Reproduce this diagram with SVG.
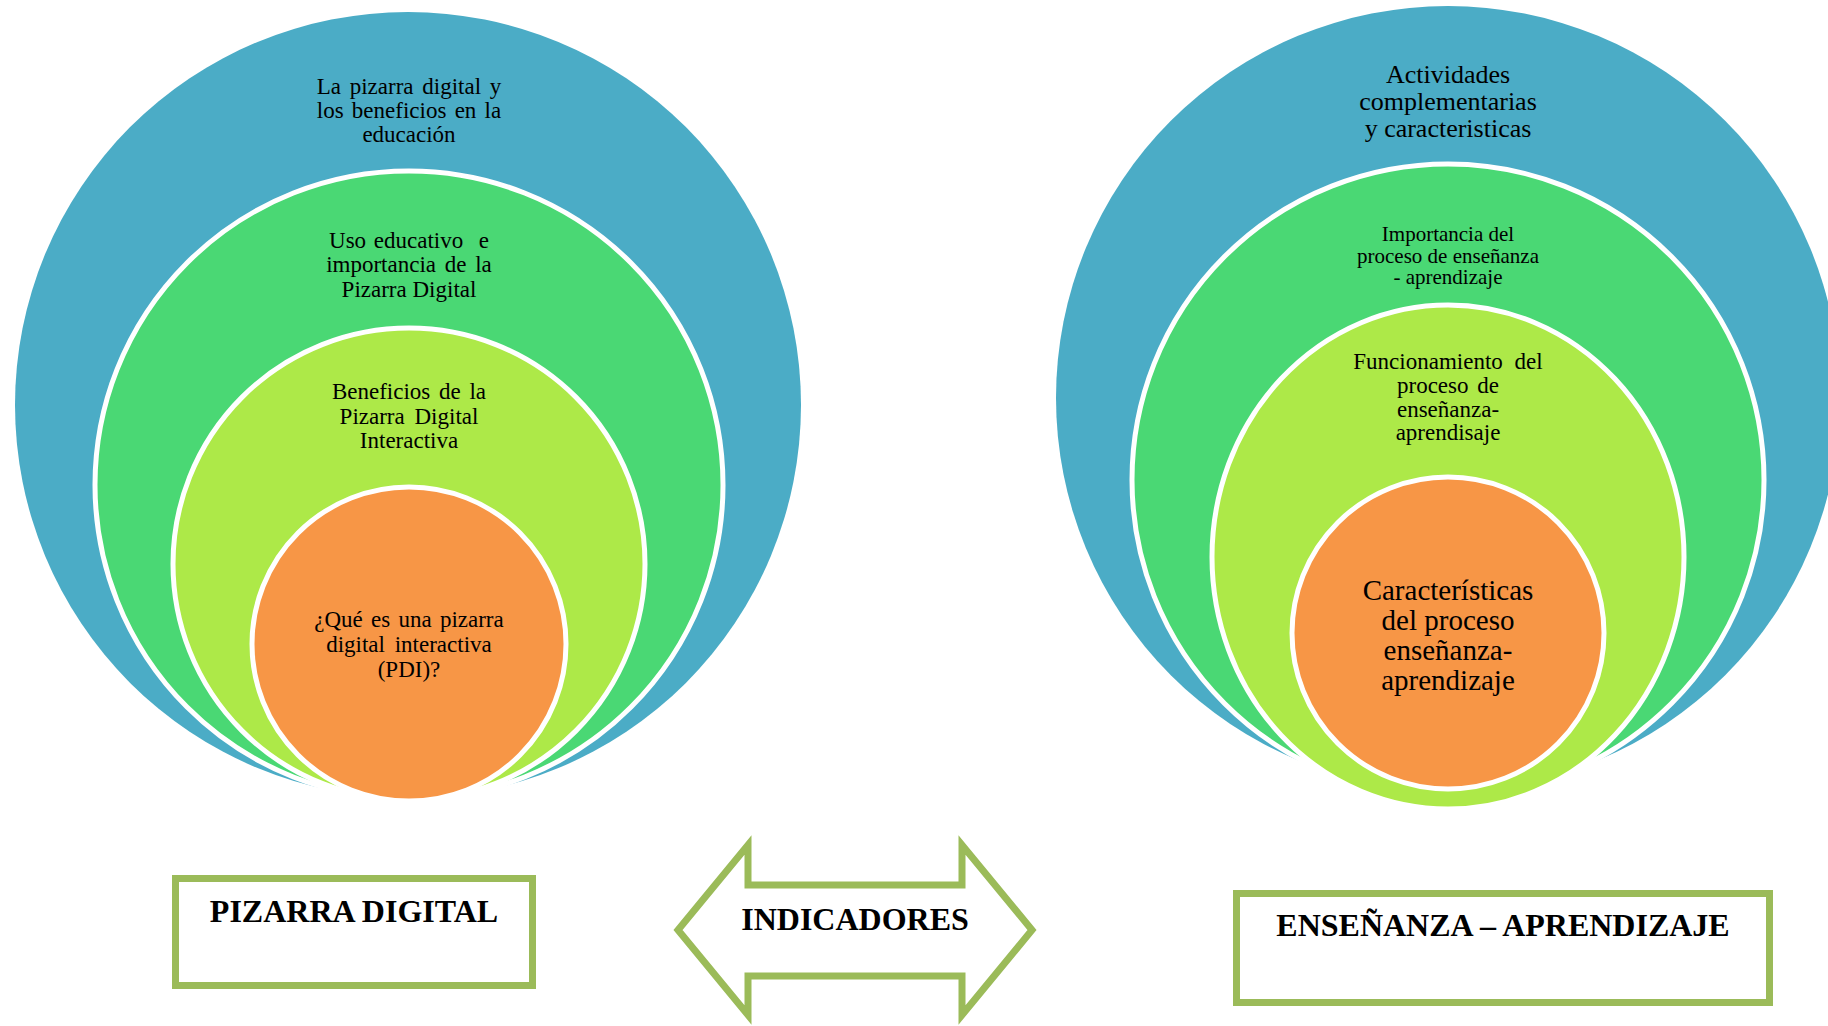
<svg xmlns="http://www.w3.org/2000/svg" width="1828" height="1026" viewBox="0 0 1828 1026">
  <style>
    .ring1 { fill: #4BACC6; }
    .ring2 { fill: #4AD874; stroke: #FFFFFF; stroke-width: 5; }
    .ring3 { fill: #ADE948; stroke: #FFFFFF; stroke-width: 5; }
    .ring4 { fill: #F79646; stroke: #FFFFFF; stroke-width: 5; }
    .lbl { font-family: "Liberation Serif", "Times New Roman", serif; fill: #000000; text-anchor: middle; }
    .s21 { font-size: 21px; }
    .s23 { font-size: 23px; }
    .s26 { font-size: 26px; }
    .s29 { font-size: 29px; }
    .title { font-family: "Liberation Serif", "Times New Roman", serif; font-weight: bold; font-size: 32px; fill: #000000; text-anchor: middle; }
    .frame { fill: #FFFFFF; stroke: #9BBB59; stroke-width: 7; }
    .pre { white-space: pre; }
  </style>

  <!-- Left nested target: Pizarra digital -->
  <g id="pd-outer">
    <circle class="ring1" cx="408" cy="405" r="393"/>
    <text class="lbl s23" x="409" y="94" word-spacing="3">La pizarra digital y</text>
    <text class="lbl s23" x="409" y="118" word-spacing="2.5">los beneficios en la</text>
    <text class="lbl s23" x="409" y="142">educación</text>
  </g>
  <g id="pd-uso">
    <circle class="ring2" cx="409" cy="485" r="314"/>
    <text class="lbl s23 pre" x="409" y="248" word-spacing="2">Uso educativo  e</text>
    <text class="lbl s23" x="409" y="272" word-spacing="3">importancia de la</text>
    <text class="lbl s23" x="409" y="297">Pizarra Digital</text>
  </g>
  <g id="pd-beneficios">
    <circle class="ring3" cx="409" cy="564" r="236"/>
    <text class="lbl s23" x="409" y="399" word-spacing="3">Beneficios de la</text>
    <text class="lbl s23" x="409" y="424" word-spacing="4">Pizarra Digital</text>
    <text class="lbl s23" x="409" y="448">Interactiva</text>
  </g>
  <g id="pd-core">
    <circle class="ring4" cx="409" cy="644" r="157"/>
    <text class="lbl s23" x="409" y="627" word-spacing="2.5">¿Qué es una pizarra</text>
    <text class="lbl s23" x="409" y="652" word-spacing="4">digital interactiva</text>
    <text class="lbl s23" x="409" y="677">(PDI)?</text>
  </g>

  <!-- Right nested target: Enseñanza - aprendizaje -->
  <g id="ea-outer">
    <circle class="ring1" cx="1448" cy="398" r="392"/>
    <text class="lbl s26" x="1448" y="83">Actividades</text>
    <text class="lbl s26" x="1448" y="110">complementarias</text>
    <text class="lbl s26" x="1448" y="137">y caracteristicas</text>
  </g>
  <g id="ea-importancia">
    <circle class="ring2" cx="1448" cy="480" r="316"/>
    <text class="lbl s21" x="1448" y="241">Importancia del</text>
    <text class="lbl s21" x="1448" y="263">proceso de enseñanza</text>
    <text class="lbl s21" x="1448" y="284">- aprendizaje</text>
  </g>
  <g id="ea-funcionamiento">
    <ellipse class="ring3" cx="1448" cy="557" rx="236" ry="252"/>
    <text class="lbl s23" x="1448" y="369" word-spacing="6">Funcionamiento del</text>
    <text class="lbl s23" x="1448" y="393" word-spacing="3">proceso de</text>
    <text class="lbl s23" x="1448" y="417">enseñanza-</text>
    <text class="lbl s23" x="1448" y="440">aprendisaje</text>
  </g>
  <g id="ea-core">
    <circle class="ring4" cx="1448" cy="633" r="156"/>
    <text class="lbl s29" x="1448" y="600">Características</text>
    <text class="lbl s29" x="1448" y="630">del proceso</text>
    <text class="lbl s29" x="1448" y="660">enseñanza-</text>
    <text class="lbl s29" x="1448" y="690">aprendizaje</text>
  </g>

  <!-- Bottom labels -->
  <g id="box-pizarra">
    <rect class="frame" x="175.5" y="878.5" width="357" height="107"/>
    <text class="title" x="354" y="922">PIZARRA DIGITAL</text>
  </g>
  <g id="arrow-indicadores">
    <polygon class="frame" points="678,930 748,845 748,885 962,885 962,845 1032,930 962,1015 962,976 748,976 748,1015"/>
    <text class="title" x="855" y="930">INDICADORES</text>
  </g>
  <g id="box-ensenanza">
    <rect class="frame" x="1236.5" y="893.5" width="533" height="109"/>
    <text class="title" x="1503" y="936">ENSEÑANZA – APRENDIZAJE</text>
  </g>
</svg>
